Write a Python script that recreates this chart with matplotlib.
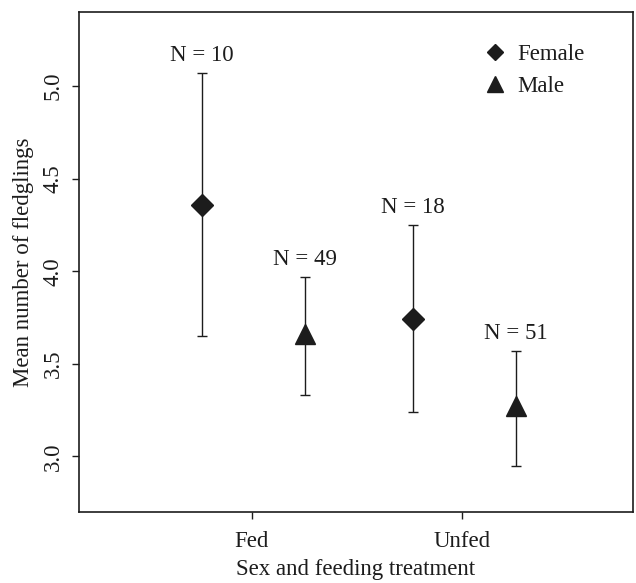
import matplotlib.pyplot as plt
import numpy as np

plt.rcParams['font.family'] = ['Liberation Serif', 'DejaVu Serif']

treatments = ['Fed', 'Unfed']
female_mean = [4.36, 3.74]
female_low = [3.65, 3.24]
female_high = [5.07, 4.25]
female_n = [10, 18]
male_mean = [3.66, 3.27]
male_low = [3.33, 2.95]
male_high = [3.97, 3.57]
male_n = [49, 51]

ink = '#1c1c1c'
fs = 16.5
pos = np.arange(1, len(treatments) + 1)
xf = pos - 0.235
xm = pos + 0.255

fig = plt.figure(figsize=(6.36, 5.83), dpi=100)
ax = fig.add_axes([0.1242, 0.1218, 0.8710, 0.8576])

fm = np.array(female_mean)
mm = np.array(male_mean)
ax.errorbar(xf, fm, yerr=[fm - np.array(female_low), np.array(female_high) - fm],
            fmt='D', color=ink, ms=11, capsize=3.5, elinewidth=1.0, capthick=1.0,
            label='Female')
ax.errorbar(xm, mm, yerr=[mm - np.array(male_low), np.array(male_high) - mm],
            fmt='^', color=ink, ms=15, capsize=3.5, elinewidth=1.0, capthick=1.0,
            label='Male')

# sample sizes above the bars
for x, top, n in zip(xf, female_high, female_n):
    ax.annotate('N = %d' % n, (x, top), xytext=(0, 5), textcoords='offset points',
                ha='center', va='bottom', fontsize=fs, color=ink)
for x, top, n in zip(xm, male_high, male_n):
    ax.annotate('N = %d' % n, (x, top), xytext=(0, 5), textcoords='offset points',
                ha='center', va='bottom', fontsize=fs, color=ink)

ax.set_xlim(0.18, 2.81)
ax.set_ylim(2.70, 5.40)
ax.set_xticks(pos)
ax.set_xticklabels(treatments)
ax.set_yticks([3.0, 3.5, 4.0, 4.5, 5.0])
ax.set_yticklabels(['3.0', '3.5', '4.0', '4.5', '5.0'], rotation=90, va='center')
ax.tick_params(axis='both', direction='out', length=5, width=1.0, color=ink,
               labelsize=fs, labelcolor=ink)
ax.tick_params(axis='y', pad=6)
ax.tick_params(axis='x', pad=9)
for s in ax.spines.values():
    s.set_linewidth(1.2)
    s.set_color(ink)

ax.set_xlabel('Sex and feeding treatment', fontsize=fs, color=ink, labelpad=5)
ax.set_ylabel('Mean number of fledglings', fontsize=fs, color=ink, labelpad=6)

h, l = ax.get_legend_handles_labels()
h = [hh[0] for hh in h]
leg = ax.legend(h, l, loc='upper right', bbox_to_anchor=(0.912, 0.937),
                frameon=False, fontsize=fs, handlelength=1.0, handletextpad=0.45,
                labelspacing=0.5, borderaxespad=0.0, borderpad=0.0, markerscale=0.75)
for t in leg.get_texts():
    t.set_color(ink)

fig.savefig('out.png', dpi=100)
